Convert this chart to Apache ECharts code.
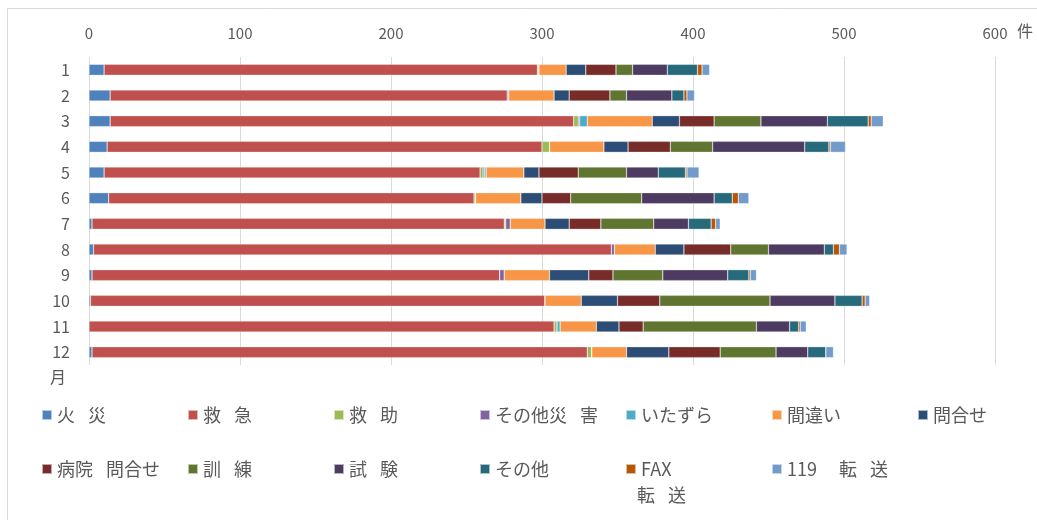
<!DOCTYPE html>
<html>
<head>
<meta charset="utf-8">
<script src="https://cdn.jsdelivr.net/npm/echarts@6/dist/echarts.min.js"></script>
<style>
  html, body { margin: 0; padding: 0; background: #fff; }
  #chart { width: 1037px; height: 520px; }
</style>
</head>
<body>
<div id="chart"></div>
<script>
// months (y axis) and x ticks
var months = ['1', '2', '3', '4', '5', '6', '7', '8', '9', '10', '11', '12'];
var xTicks = [0, 100, 200, 300, 400, 500, 600];

// per-month counts
var kasai      = [10, 14, 14, 12, 10, 13, 2, 3, 2, 1, 0, 2];
var kyukyu     = [287, 263, 307, 288, 249, 242, 273, 343, 270, 301, 308, 328];
var kyujo      = [1, 0, 3, 5, 2, 1, 1, 0, 0, 0, 2, 3];
var sonotaSai  = [0, 1, 1, 0, 1, 0, 3, 2, 3, 0, 0, 0];
var itazura    = [0, 0, 5, 0, 1, 0, 0, 0, 0, 0, 2, 0];
var machigai   = [18, 30, 43, 36, 25, 30, 23, 27, 30, 24, 24, 23];
var toiawase   = [13, 10, 18, 16, 10, 14, 16, 19, 26, 24, 15, 28];
var byoin      = [20, 27, 23, 28, 26, 19, 21, 31, 16, 28, 16, 34];
var kunren     = [11, 11, 31, 28, 32, 47, 35, 25, 33, 73, 75, 37];
var shiken     = [23, 30, 44, 61, 21, 48, 23, 37, 43, 43, 22, 21];
var sonota     = [20, 8, 27, 16, 18, 12, 15, 6, 14, 18, 6, 12];
var faxTenso   = [3, 2, 2, 1, 1, 4, 3, 4, 1, 2, 1, 0];
var tenso119   = [5, 5, 8, 10, 8, 7, 3, 5, 4, 3, 4, 5];

var seriesDefs = [
  ['火\u2002 災', kasai, '#4F81BD'],
  ['救\u2002 急', kyukyu, '#C0504D'],
  ['救\u2002 助', kyujo, '#9BBB59'],
  ['その他災\u2002 害', sonotaSai, '#8064A2'],
  ['いたずら', itazura, '#4BACC6'],
  ['間違い', machigai, '#F79646'],
  ['問合せ', toiawase, '#2C4D75'],
  ['病院\u2002 問合せ', byoin, '#772C2A'],
  ['訓\u2002 練', kunren, '#5F7530'],
  ['試\u2002 験', shiken, '#4D3B62'],
  ['その他', sonota, '#276A7C'],
  ['FAX', faxTenso, '#B65708'],
  ['119\u2003 転\u2002 送', tenso119, '#729ACA']
];

var FONT = '"Noto Sans CJK JP", "Noto Sans", sans-serif';
var TEXT = '#595959';

var series = seriesDefs.map(function(d) {
  return {
    name: d[0],
    type: 'bar',
    stack: 'total',
    barWidth: 11,
    data: d[1],
    itemStyle: { color: d[2], borderColor: 'rgba(255,255,255,0.6)', borderWidth: 0.5 },
    emphasis: { disabled: true }
  };
});

// one legend per entry, 7 on the first row, 6 on the second
var legends = seriesDefs.map(function(d, i) {
  var row = i < 7 ? 0 : 1;
  var col = row ? i - 7 : i;
  return {
    left: 41 + col * 146,
    top: row ? 460 : 406,
    padding: 0,
    itemWidth: 10,
    itemHeight: 10,
    icon: 'rect',
    selectedMode: false,
    data: [d[0]],
    textStyle: { fontFamily: FONT, fontSize: 18, color: TEXT }
  };
});

var chart = echarts.init(document.getElementById('chart'));
chart.setOption({
  animation: false,
  grid: { left: 89, right: 42, top: 57, bottom: 155 },
  xAxis: {
    type: 'value',
    position: 'top',
    min: 0,
    max: 600,
    interval: 100,
    axisLine: { show: false },
    axisTick: { show: false },
    axisLabel: {
      margin: 16,
      fontFamily: FONT,
      fontSize: 15,
      color: TEXT,
      formatter: function(v) { return xTicks.indexOf(v) >= 0 ? String(v) : ''; }
    },
    splitLine: { lineStyle: { color: '#d9d9d9', width: 1 } }
  },
  yAxis: {
    type: 'category',
    data: months,
    inverse: true,
    name: '月',
    nameLocation: 'end',
    nameGap: 4,
    nameTextStyle: { fontFamily: FONT, fontSize: 16, color: TEXT, align: 'right', padding: [0, 23, 0, 0] },
    axisLine: { show: false },
    axisTick: { show: false },
    axisLabel: { margin: 19, fontFamily: FONT, fontSize: 16, color: TEXT }
  },
  legend: legends,
  graphic: [
    {
      type: 'rect',
      silent: true,
      shape: { x: 7.5, y: 8.5, width: 1040, height: 520 },
      style: { fill: 'none', stroke: '#d9d9d9', lineWidth: 1 }
    },
    {
      type: 'text',
      left: 1017,
      top: 23,
      silent: true,
      style: { text: '件', fontFamily: FONT, fontSize: 16, fill: TEXT }
    },
    {
      type: 'text',
      left: 637,
      top: 486,
      silent: true,
      style: { text: '転\u2002 送', fontFamily: FONT, fontSize: 18, fill: TEXT }
    }
  ],
  series: series
});
</script>
</body>
</html>
